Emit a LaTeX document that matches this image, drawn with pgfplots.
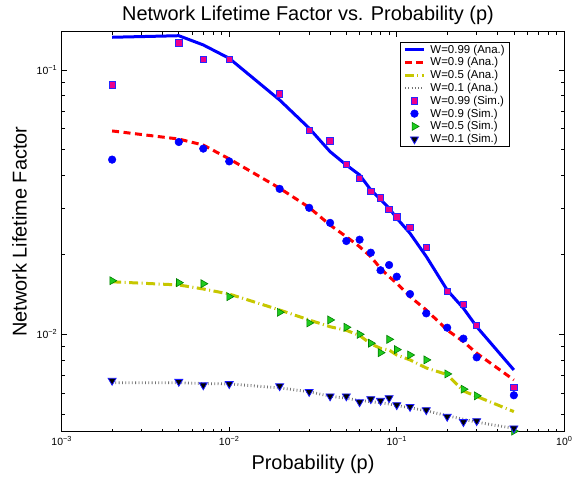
\documentclass[border=0pt]{standalone}
\usepackage{fontspec}
\setmainfont{Liberation Sans}
\usepackage{pgfplots}
\usepackage{pgfplotstable}
\pgfplotsset{compat=1.18}

\definecolor{anablue}{rgb}{0,0,1}
\definecolor{anared}{rgb}{1,0,0}
\definecolor{anayellow}{rgb}{0.78,0.78,0}
\definecolor{anagray}{rgb}{0.45,0.45,0.45}
\definecolor{simgreen}{rgb}{0.12,0.8,0.12}
\definecolor{simgreenedge}{rgb}{0,0.5,0}

% p, analytical (a) and simulated (s) lifetime factor for each W
\pgfplotstableread{
p      a99     s99     a90     s90     a50     s50     a10     s10
0.002  0.1330  0.0877  0.0588  0.0458  0.0158  0.01595 0.00656 0.00668
0.005  0.1348  0.1265  0.0548  0.0534  0.01537 0.01568 0.00656 0.00662
0.007  0.1244  0.1094  0.0520  0.0504  0.01484 0.01554 0.00651 0.00642
0.01   0.1107  0.1097  0.0461  0.0451  0.0142  0.01388 0.00649 0.00649
0.02   0.0770  0.0811  0.0357  0.0355  0.01236 0.01211 0.00627 0.00637
0.03   0.0602  0.0591  0.0302  0.0301  0.01133 0.01104 0.00606 0.00606
0.04   0.0491  0.0539  0.0259  0.0264  0.01068 0.01133 0.00583 0.00583
0.05   0.0437  0.0440  0.0234  0.02254 0.01035 0.01063 0.00573 0.00583
0.06   0.0401  0.0389  0.02145 0.0228  0.0099  0.0100  0.00562 0.00554
0.07   0.0352  0.0348  0.01966 0.02036 0.0092  0.00925 0.00556 0.00569
0.08   0.0324  0.0328  0.01777 0.01747 0.00885 0.00852 0.00551 0.00561
0.09   0.0300  0.0297  0.01652 0.01829 0.00872 0.00957 0.00545 0.00574
0.1    0.0275  0.0278  0.0156  0.01652 0.00835 0.00875 0.00538 0.0054
0.12   0.0241  0.0254  0.01388 0.0142  0.0080  0.00835 0.00527 0.00532
0.15   0.0197  0.02127 0.01236 0.0120  0.00746 0.0080  0.00514 0.00517
0.2    0.0147  0.0145  0.01038 0.01059 0.00704 0.00708 0.00492 0.00488
0.25   0.01254 0.0130  0.00938 0.00963 0.0061  0.0062  0.00477 0.00466
0.3    0.01068 0.0108  0.00848 0.00818 0.00582 0.00585 0.00465 0.0047
0.5    0.00733 0.0063  0.00672 0.00588 0.0051  0.0043  0.00441 0.00441
}\lifetime

\begin{document}
\begin{tikzpicture}
\path[use as bounding box] (-61.7bp,-46.3bp) rectangle (514.3bp,431.7bp);
\begin{axis}[
  at={(0,0)}, anchor=south west,
  scale only axis, width=502.6bp, height=400bp,
  xmode=log, ymode=log,
  xmin=1e-3, xmax=1, ymin=0.00428, ymax=0.1396,
  xtick={0.001,0.01,0.1,1},
  xticklabels={10\textsuperscript{−3},10\textsuperscript{−2},10\textsuperscript{−1},10\textsuperscript{0}},
  minor xtick={0.002,0.003,0.004,0.005,0.006,0.007,0.008,0.009,
               0.02,0.03,0.04,0.05,0.06,0.07,0.08,0.09,
               0.2,0.3,0.4,0.5,0.6,0.7,0.8,0.9},
  ytick={0.01,0.1},
  yticklabels={10\textsuperscript{−2},10\textsuperscript{−1}},
  minor ytick={0.005,0.006,0.007,0.008,0.009,
               0.02,0.03,0.04,0.05,0.06,0.07,0.08,0.09},
  ticklabel style={font=\fontsize{10.5}{12}\selectfont},
  xticklabel style={yshift=-1bp},
  yticklabel style={xshift=-1bp},
  major tick length=5bp, minor tick length=3bp,
  tick align=inside, tick pos=both,
  every tick/.style={black, line width=0.6bp},
  axis line style={black, line width=0.8bp},
  every axis title shift=0pt,
  title={Network Lifetime Factor vs. Probability (p)},
  title style={font=\fontsize{20}{23}\selectfont, at={(axis description cs:0.5,1.0275)}, anchor=base, xshift=-5bp, yshift=0pt},
  xlabel={Probability (p)},
  xlabel style={font=\fontsize{20}{23}\selectfont, at={(axis description cs:0.5,-0.094)}, anchor=base},
  ylabel={Network Lifetime Factor},
  ylabel style={font=\fontsize{20}{23}\selectfont, at={(axis description cs:-0.0696,0.5)}, rotate=0, anchor=base},
  legend style={at={(axis description cs:0.892,0.9735)}, anchor=north east,
    font=\fontsize{11.5}{13}\selectfont, draw=black, line width=0.7bp,
    inner xsep=3.5bp, inner ysep=0.6bp,
    nodes={inner sep=1.5bp},
    /tikz/every odd column/.append style={column sep=3.5bp}},
  legend cell align=left,
  legend image code/.code={%
    \draw[mark repeat=2,mark phase=2,#1] plot coordinates {(0bp,0bp) (9.5bp,0bp) (19bp,0bp)};},
]
\addplot[anablue, line width=3bp] table[x=p,y=a99] {\lifetime};
\addlegendentry{W=0.99 (Ana.)}
\addplot[anared, line width=3bp, dash pattern=on 7bp off 4.5bp] table[x=p,y=a90] {\lifetime};
\addlegendentry{W=0.9 (Ana.)}
\addplot[anayellow, line width=3bp, dash pattern=on 9bp off 3.5bp on 1bp off 3.5bp] table[x=p,y=a50] {\lifetime};
\addlegendentry{W=0.5 (Ana.)}
\addplot[anagray, line width=2.8bp, dash pattern=on 0.8bp off 2.5bp] table[x=p,y=a10] {\lifetime};
\addlegendentry{W=0.1 (Ana.)}
\addplot[only marks, mark=square*, mark size=3.2bp,
  mark options={fill=magenta, draw=blue!85!white, line width=0.8bp, solid}] table[x=p,y=s99] {\lifetime};
\addlegendentry{W=0.99 (Sim.)}
\addplot[only marks, mark=*, mark size=3.8bp,
  mark options={fill=blue, draw=blue, line width=0.5bp, solid}] table[x=p,y=s90] {\lifetime};
\addlegendentry{W=0.9 (Sim.)}
\addplot[only marks, mark=triangle*, mark size=4.6bp,
  mark options={rotate=-90, fill=simgreen, draw=simgreenedge, line width=0.6bp, solid}] table[x=p,y=s50] {\lifetime};
\addlegendentry{W=0.5 (Sim.)}
\addplot[only marks, mark=triangle*, mark size=4.6bp,
  mark options={rotate=180, fill=black, draw=blue!90!white, line width=0.8bp, solid}] table[x=p,y=s10] {\lifetime};
\addlegendentry{W=0.1 (Sim.)}
\end{axis}
\end{tikzpicture}
\end{document}
